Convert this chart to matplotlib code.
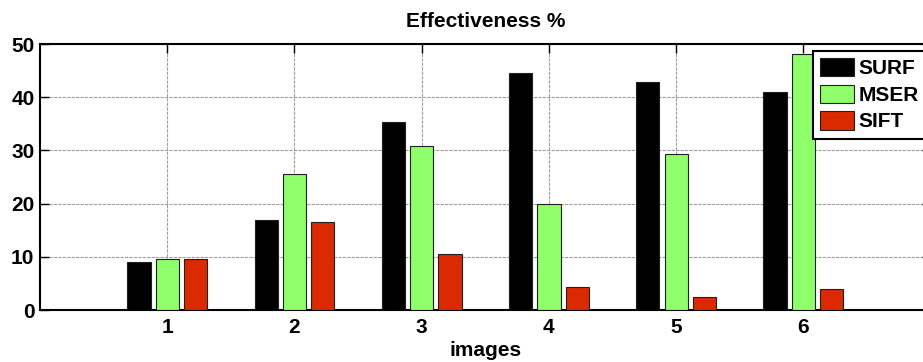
import matplotlib
matplotlib.use("Agg")
import matplotlib.pyplot as plt
import numpy as np

images = [1, 2, 3, 4, 5, 6]
surf = [9.0, 16.9, 35.4, 44.5, 42.9, 41.0]
mser = [9.6, 25.6, 30.8, 20.0, 29.4, 48.1]
sift = [9.6, 16.6, 10.5, 4.3, 2.4, 3.9]
series_names = ["SURF", "MSER", "SIFT"]
yticks = [0, 10, 20, 30, 40, 50]

colors = ["#000000", "#8fff6c", "#db2a00"]

plt.rcParams['font.family'] = ['Liberation Sans', 'DejaVu Sans']
plt.rcParams['font.weight'] = 'bold'
plt.rcParams['font.size'] = 15

fig = plt.figure(figsize=(9.23, 3.62), dpi=100)
ax = fig.add_axes([40/923, 52/362, 890.6/923, 266/362])

x = np.array(images, dtype=float)
offset = 0.2225
width = 0.183
for i, (vals, name) in enumerate(zip([surf, mser, sift], series_names)):
    ax.bar(x + (i - 1) * offset, vals, width=width, color=colors[i],
           edgecolor='#202020', linewidth=0.8, label=name, zorder=3)

ax.set_xlim(0, 7)
ax.set_ylim(0, 50)
ax.set_xticks(images)
ax.set_yticks(yticks)
ax.grid(True, color='#a0a0a0', linestyle=(0, (3, 1)), linewidth=0.8, zorder=0)
ax.set_axisbelow(True)
ax.tick_params(direction='in', length=6.5, width=1.0, top=True, right=True,
               labelsize=15)
ax.tick_params(axis='x', pad=6)
ax.tick_params(axis='y', pad=4)
for lab in ax.get_xticklabels() + ax.get_yticklabels():
    lab.set_fontweight('bold')
for s in ax.spines.values():
    s.set_linewidth(1.5)
    s.set_color('black')

ax.set_title("Effectiveness %", fontsize=15, fontweight='bold', pad=12)
ax.set_xlabel("images", fontsize=15, fontweight='bold', labelpad=3)

leg = ax.legend(loc='upper left', bbox_to_anchor=((813-40)/890.6, (310-50.7)/266),
                fancybox=False, framealpha=1, edgecolor='black',
                handlelength=1.62, handleheight=0.98, handletextpad=0.2,
                borderpad=0.35, labelspacing=0.3, borderaxespad=0,
                prop={'weight': 'bold', 'size': 15})
leg.get_frame().set_linewidth(1.5)

fig.savefig("out.png", dpi=100)
